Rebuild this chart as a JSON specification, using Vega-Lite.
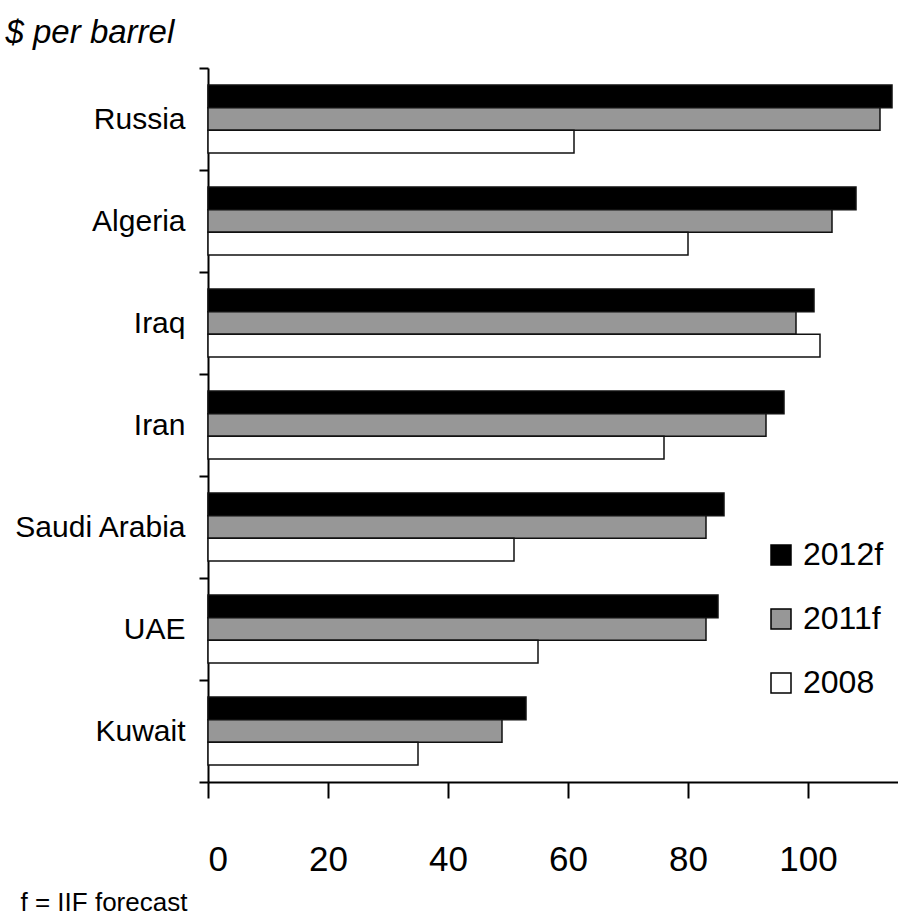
{
  "$schema": "https://vega.github.io/schema/vega-lite/v6.json",
  "width": 690,
  "height": 714,
  "autosize": {"type": "none"},
  "padding": {"left": 208, "top": 68, "right": 0, "bottom": 136},
  "background": "white",
  "data": {
    "values": [
      {"country": "Russia", "series": "2012f", "value": 114},
      {"country": "Russia", "series": "2011f", "value": 112},
      {"country": "Russia", "series": "2008", "value": 61},
      {"country": "Algeria", "series": "2012f", "value": 108},
      {"country": "Algeria", "series": "2011f", "value": 104},
      {"country": "Algeria", "series": "2008", "value": 80},
      {"country": "Iraq", "series": "2012f", "value": 101},
      {"country": "Iraq", "series": "2011f", "value": 98},
      {"country": "Iraq", "series": "2008", "value": 102},
      {"country": "Iran", "series": "2012f", "value": 96},
      {"country": "Iran", "series": "2011f", "value": 93},
      {"country": "Iran", "series": "2008", "value": 76},
      {"country": "Saudi Arabia", "series": "2012f", "value": 86},
      {"country": "Saudi Arabia", "series": "2011f", "value": 83},
      {"country": "Saudi Arabia", "series": "2008", "value": 51},
      {"country": "UAE", "series": "2012f", "value": 85},
      {"country": "UAE", "series": "2011f", "value": 83},
      {"country": "UAE", "series": "2008", "value": 55},
      {"country": "Kuwait", "series": "2012f", "value": 53},
      {"country": "Kuwait", "series": "2011f", "value": 49},
      {"country": "Kuwait", "series": "2008", "value": 35}
    ]
  },
  "mark": {"type": "bar", "stroke": "#111111", "strokeWidth": 1.5},
  "encoding": {
    "y": {
      "field": "country",
      "type": "nominal",
      "sort": ["Russia", "Algeria", "Iraq", "Iran", "Saudi Arabia", "UAE", "Kuwait"],
      "scale": {"paddingInner": 0, "paddingOuter": 0},
      "axis": {
        "title": "$ per barrel",
        "titleFont": "Liberation Sans, Arial, sans-serif",
        "titleFontStyle": "italic",
        "titleFontWeight": "normal",
        "titleFontSize": 33,
        "titleColor": "black",
        "titleAngle": 0,
        "titleAlign": "left",
        "titleBaseline": "alphabetic",
        "titleX": -203,
        "titleY": -26,
        "tickBand": "extent",
        "tickSize": 9,
        "tickWidth": 2,
        "tickColor": "black",
        "domainColor": "black",
        "domainWidth": 2,
        "labelPadding": 14,
        "labelLimit": 0,
        "labelFont": "Liberation Sans, Arial, sans-serif",
        "labelFontSize": 30,
        "labelColor": "black"
      }
    },
    "yOffset": {
      "field": "series",
      "type": "nominal",
      "sort": ["2012f", "2011f", "2008"],
      "scale": {"paddingInner": 0, "paddingOuter": 0.75}
    },
    "x": {
      "field": "value",
      "type": "quantitative",
      "scale": {"domain": [0, 115], "nice": false, "zero": true},
      "axis": {
        "values": [0, 20, 40, 60, 80, 100],
        "grid": false,
        "tickSize": 16,
        "tickWidth": 2,
        "tickColor": "black",
        "domainColor": "black",
        "domainWidth": 2,
        "labelPadding": 44,
        "labelFont": "Liberation Sans, Arial, sans-serif",
        "labelFontSize": 35,
        "labelColor": "black",
        "title": "f = IIF forecast",
        "titleFont": "Liberation Sans, Arial, sans-serif",
        "titleFontSize": 26,
        "titleFontWeight": "normal",
        "titleColor": "black",
        "titleAnchor": "start",
        "titleAlign": "left",
        "titleBaseline": "alphabetic",
        "titleX": -188,
        "titleY": 128
      }
    },
    "fill": {
      "field": "series",
      "type": "nominal",
      "sort": ["2012f", "2011f", "2008"],
      "scale": {"domain": ["2012f", "2011f", "2008"], "range": ["#000000", "#979797", "#ffffff"]},
      "legend": {
        "title": null,
        "orient": "none",
        "legendX": 557,
        "legendY": 471,
        "direction": "vertical",
        "symbolType": "square",
        "symbolSize": 400,
        "symbolStrokeColor": "black",
        "symbolStrokeWidth": 1.5,
        "labelFont": "Liberation Sans, Arial, sans-serif",
        "labelFontSize": 32,
        "labelColor": "black",
        "labelOffset": 6,
        "rowPadding": 32
      }
    }
  },
  "config": {"view": {"stroke": null}}
}
